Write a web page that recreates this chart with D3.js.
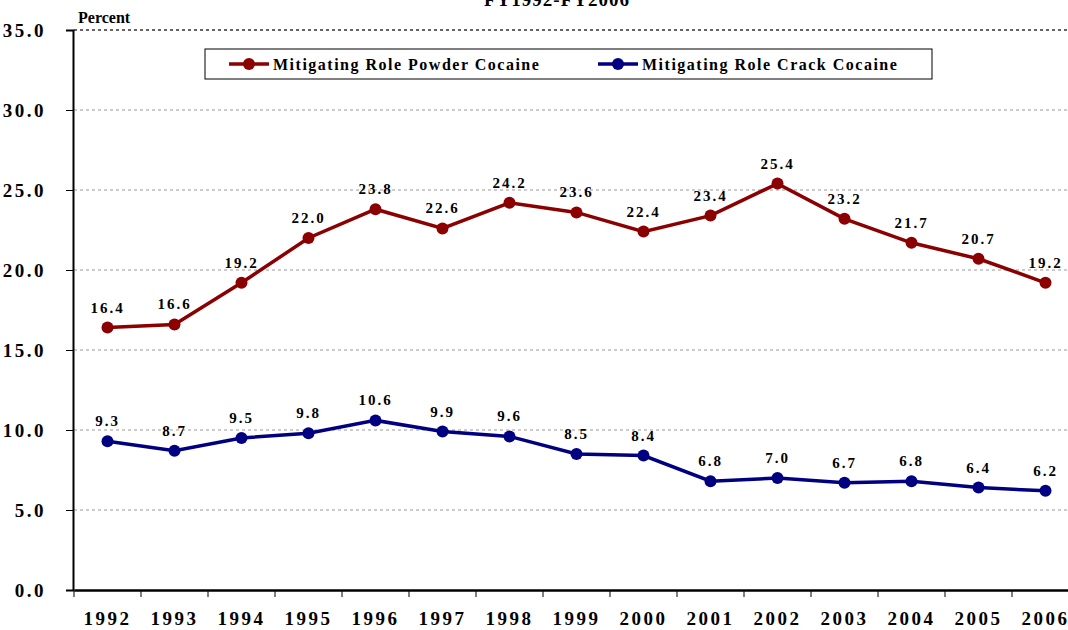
<!DOCTYPE html>
<html><head><meta charset="utf-8">
<script src="https://cdn.jsdelivr.net/npm/d3@7"></script>
<style>body{margin:0;background:#fff}svg{display:block}svg text{font-family:"Liberation Serif","DejaVu Serif",serif !important;font-weight:bold !important}</style>
</head><body><svg id="c" width="1068" height="630"></svg>
<script>
const years = ["1992","1993","1994","1995","1996","1997","1998","1999","2000","2001","2002","2003","2004","2005","2006"];
const powder = [16.4,16.6,19.2,22.0,23.8,22.6,24.2,23.6,22.4,23.4,25.4,23.2,21.7,20.7,19.2];
const crack = [9.3,8.7,9.5,9.8,10.6,9.9,9.6,8.5,8.4,6.8,7.0,6.7,6.8,6.4,6.2];
const yTicks = [0,5,10,15,20,25,30,35];
const seriesNames = ["Mitigating Role Powder Cocaine","Mitigating Role Crack Cocaine"];
const colors = ["#8B0000","#000080"];

const svg = d3.select("#c");
const x = d3.scaleBand().domain(years).range([74,1079]);
const y = d3.scaleLinear().domain([0,35]).range([590,30]);

// title (cut off at top in the reference)
svg.append("text").attr("x",557).attr("y",6).attr("text-anchor","middle")
  .style("font-size","19px").style("letter-spacing","1px").text("FY1992-FY2006");

// grid
svg.append("g").selectAll("line").data(yTicks.filter(d=>d>0)).join("line")
  .attr("x1",74).attr("x2",1068).attr("y1",d=>y(d)).attr("y2",d=>y(d))
  .attr("stroke",d=>d===35?"#333":"#999").attr("stroke-width",d=>d===35?1.5:1.2)
  .attr("stroke-dasharray","3,3");

// y axis
const ya = svg.append("g").attr("transform","translate(73,0)")
  .call(d3.axisLeft(y).tickValues(yTicks).tickFormat(d3.format(".1f")).tickSize(7).tickPadding(20));
ya.select(".domain").attr("stroke","#000").attr("stroke-width",2);
ya.selectAll(".tick line").attr("stroke","#000");
ya.selectAll("text").style("font-size","19px").style("letter-spacing","2.5px").attr("fill","#000");

// x axis
const xa = svg.append("g").attr("transform","translate(0,590)")
  .call(d3.axisBottom(x).tickSize(0).tickPadding(22));
xa.select(".domain").attr("stroke","#000").attr("stroke-width",2.5);
xa.selectAll("text").style("font-size","19px").style("letter-spacing","2.5px").attr("fill","#000");
svg.append("g").selectAll("line").data(years).join("line")
  .attr("x1",d=>x(d)).attr("x2",d=>x(d)).attr("y1",590).attr("y2",597)
  .attr("stroke","#000").attr("stroke-width",1);

svg.append("text").attr("x",78).attr("y",23).style("font-size","16px").text("Percent");

const cx = d=>x(d)+x.bandwidth()/2;
[powder,crack].forEach((vals,i)=>{
  const data = years.map((yr,j)=>({yr,v:vals[j]}));
  svg.append("path").datum(data)
    .attr("d",d3.line().x(d=>cx(d.yr)).y(d=>y(d.v)))
    .attr("fill","none").attr("stroke",colors[i]).attr("stroke-width",3.5);
  svg.append("g").selectAll("circle").data(data).join("circle")
    .attr("cx",d=>cx(d.yr)).attr("cy",d=>y(d.v)).attr("r",6).attr("fill",colors[i]);
  svg.append("g").selectAll("text").data(data).join("text")
    .attr("x",d=>cx(d.yr)).attr("y",d=>y(d.v)-15).attr("text-anchor","middle")
    .style("font-size","15px").style("letter-spacing","2px").text(d=>d.v.toFixed(1));
});

// legend
svg.append("rect").attr("x",205).attr("y",49).attr("width",727).attr("height",30)
  .attr("fill","#fff").attr("stroke","#000").attr("stroke-width",1);
const lx = [229,598];
seriesNames.forEach((n,i)=>{
  svg.append("line").attr("x1",lx[i]).attr("x2",lx[i]+40).attr("y1",64).attr("y2",64)
    .attr("stroke",colors[i]).attr("stroke-width",3.5);
  svg.append("circle").attr("cx",lx[i]+20).attr("cy",64).attr("r",6).attr("fill",colors[i]);
  svg.append("text").attr("x",lx[i]+44).attr("y",70).style("font-size","16px")
    .style("letter-spacing","1.5px").text(n);
});
</script></body></html>
